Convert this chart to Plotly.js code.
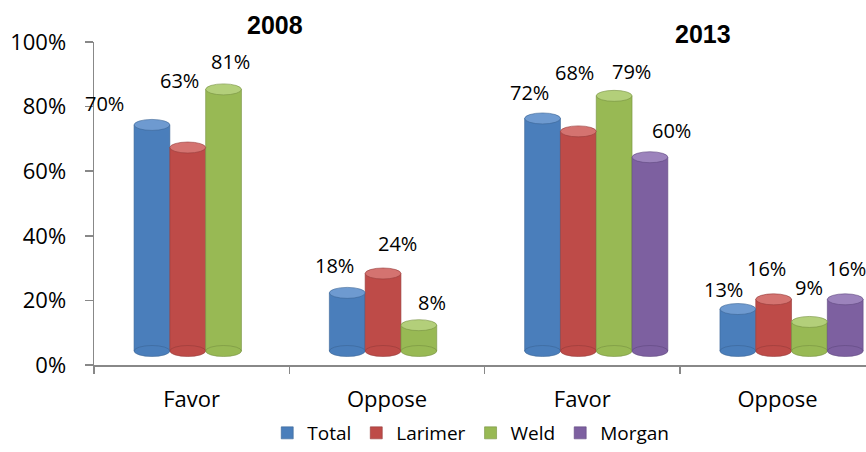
<!DOCTYPE html>
<html>
<head>
<meta charset="utf-8">
<script src="https://cdn.plot.ly/plotly-3.0.1.min.js"></script>
<style>html,body{margin:0;padding:0;background:#fff;}#chart{width:866px;height:452px;}</style>
</head>
<body>
<div id="chart"></div>
<script>
// ---- data ----
const categories = ['Favor', 'Oppose', 'Favor', 'Oppose'];
const years = ['2008', '2013'];
const seriesNames = ['Total', 'Larimer', 'Weld', 'Morgan'];
const total   = [70, 18, 72, 13];
const larimer = [63, 24, 68, 16];
const weld    = [81, 8, 79, 9];
const morgan  = [null, null, 60, 16];
const yTicks = [0, 20, 40, 60, 80, 100];

// ---- style ----
const colors = ['#4A7EBB', '#BE4B48', '#98B954', '#7D60A0'];
const tops   = ['#6E9AD0', '#D47370', '#B3CF7A', '#9C83BC'];
const edges  = ['#3A6496', '#963B39', '#76913F', '#5F4880'];
// label offsets (px) relative to the top of each cylinder, mimicking the 3D label placement
const labelShift = [
  [[-47, 21], [-13, 27], [-13, 26], [-14, 20]],
  [[-8, 67], [14, 30], [-4, 59], [-7, 31]],
  [[7, 28], [13, 23], [17, 24], [0, 34]],
  [null, null, [22, 27], [1, 31]]
];
const values = [total, larimer, weld, morgan];
const barW = 0.1833;
const depthX = 0.0717;   // 3D depth shift in categories
const depthY = 4.33;     // 3D depth shift in %
const xIdx = categories.map((_, i) => i);

// empty trace so the visible axes (x, y) get their own subplot
const traces = [{type: 'scatter', x: xIdx, y: xIdx.map(() => null), xaxis: 'x', yaxis: 'y',
  showlegend: false, hoverinfo: 'skip', mode: 'markers'}];
const shapes = [];
const annotations = [];
values.forEach((vals, s) => {
  const off = -2 * barW + s * barW;
  traces.push({
    type: 'bar', name: seriesNames[s], x: xIdx, y: vals,
    xaxis: 'x2', yaxis: 'y2',
    width: barW, offset: off,
    marker: {color: colors[s], line: {color: edges[s], width: 0.6}},
    hoverinfo: 'skip'
  });
  vals.forEach((v, c) => {
    if (v === null) return;
    const x0 = c + off, x1 = c + off + barW;
    shapes.push({type: 'circle', xref: 'x2', yref: 'y2', x0: x0, x1: x1, y0: -1.7, y1: 1.7,
      fillcolor: colors[s], line: {color: edges[s], width: 0.6}, layer: 'above'});
    shapes.push({type: 'circle', xref: 'x2', yref: 'y2', x0: x0, x1: x1, y0: v - 1.7, y1: v + 1.7,
      fillcolor: tops[s], line: {color: edges[s], width: 0.6}, layer: 'above'});
    const sh = labelShift[s][c];
    annotations.push({xref: 'x2', yref: 'y2', x: c + off + barW / 2, y: v,
      text: v + '%', showarrow: false, xanchor: 'center', yanchor: 'middle',
      xshift: sh[0], yshift: sh[1],
      font: {family: 'Open Sans, sans-serif', size: 20, color: '#000'}});
  });
});

annotations.push({xref: 'paper', yref: 'paper', x: 0.235, y: 1.052, text: '<b>' + years[0] + '</b>',
  showarrow: false, xanchor: 'center', yanchor: 'middle',
  font: {family: 'Liberation Sans, Arial, sans-serif', size: 25, color: '#000'}});
annotations.push({xref: 'paper', yref: 'paper', x: 0.789, y: 1.025, text: '<b>' + years[1] + '</b>',
  showarrow: false, xanchor: 'center', yanchor: 'middle',
  font: {family: 'Liberation Sans, Arial, sans-serif', size: 25, color: '#000'}});

const layout = {
  width: 866, height: 452,
  margin: {l: 94, r: 0, t: 42, b: 87},
  paper_bgcolor: '#fff', plot_bgcolor: 'rgba(0,0,0,0)',
  barmode: 'overlay',
  showlegend: true,
  legend: {orientation: 'h', x: 0.488, xanchor: 'center', yref: 'container', y: -0.012, yanchor: 'bottom',
    font: {family: 'Open Sans, sans-serif', size: 19, color: '#000'}, tracegroupgap: 0,
    bgcolor: 'rgba(0,0,0,0)'},
  xaxis: {
    range: [-0.5, 3.453], tickmode: 'array', tickvals: xIdx, ticktext: categories,
    ticks: '', showgrid: false, zeroline: false, showline: true, linecolor: '#888', linewidth: 1.5,
    ticklabelstandoff: 14,
    tickfont: {family: 'Open Sans, sans-serif', size: 22, color: '#000'},
    minor: {tickmode: 'linear', tick0: -0.5, dtick: 1, ticks: 'outside', ticklen: 7, tickcolor: '#888', tickwidth: 1.5, showgrid: false},
    fixedrange: true
  },
  yaxis: {
    range: [0, 100], tickmode: 'array', tickvals: yTicks, ticktext: yTicks.map(t => t + '%'),
    ticks: 'outside', ticklen: 8, tickcolor: '#888', tickwidth: 1.5,
    showgrid: false, zeroline: false, showline: true, linecolor: '#888', linewidth: 1.5,
    ticklabelstandoff: 14,
    tickfont: {family: 'Open Sans, sans-serif', size: 22, color: '#000'},
    fixedrange: true
  },
  xaxis2: {overlaying: 'x', anchor: 'y2', range: [-0.5 - depthX, 3.453 - depthX], visible: false, fixedrange: true},
  yaxis2: {overlaying: 'y', anchor: 'x2', range: [-depthY, 100 - depthY], visible: false, fixedrange: true},
  shapes: shapes,
  annotations: annotations
};

Plotly.newPlot('chart', traces, layout, {displayModeBar: false, staticPlot: true});
</script>
</body>
</html>
